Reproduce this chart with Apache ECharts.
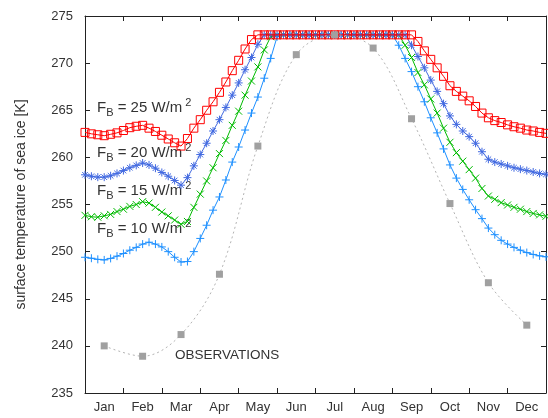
<!DOCTYPE html>
<html><head><meta charset="utf-8">
<script src="https://cdn.jsdelivr.net/npm/echarts@6/dist/echarts.min.js"></script>
<style>html,body{margin:0;padding:0;background:#fff}#c{width:548px;height:418px}</style>
</head><body><div id="c"></div>
<script>
// Month tick labels
const months = ['Jan','Feb','Mar','Apr','May','Jun','Jul','Aug','Sep','Oct','Nov','Dec'];

// Model curves, one value every 5 days (73 values, Jan 1 .. Dec 31)
const fb25 = [262.65,262.5,262.4,262.3,262.45,262.6,262.85,263.15,263.3,263.4,263.1,262.75,262.35,261.95,261.55,261.2,
  262.0,263.1,264.0,265.0,265.9,266.9,268.0,269.2,270.3,271.5,272.5,
  273,273,273,273,273,273,273,273,273,273,273,273,273,273,273,273,273,273,273,273,273,273,273,273,273,
  272.3,271.3,270.4,269.5,268.6,267.6,267.0,266.5,266.0,265.4,264.7,264.2,263.9,263.7,263.45,263.25,263.1,262.9,262.8,262.65,262.55];
const fb20 = [258.15,258.0,257.9,257.9,258.05,258.3,258.6,258.9,259.15,259.4,259.2,258.85,258.4,258.0,257.55,257.05,
  257.85,259.1,260.3,261.5,262.8,264.0,265.3,266.6,267.9,269.3,270.6,272.0,
  273,273,273,273,273,273,273,273,273,273,273,273,273,273,273,273,273,273,273,273,273,273,273,
  271.9,270.7,269.5,268.2,267.0,265.7,264.4,263.5,262.8,262.2,261.5,260.6,259.8,259.5,259.3,259.1,258.9,258.75,258.6,258.45,258.3,258.2];
const fb15 = [253.85,253.7,253.65,253.8,253.95,254.25,254.5,254.8,255.0,255.3,255.15,254.7,254.2,253.8,253.35,252.9,
  253.2,254.7,256.1,257.5,258.9,260.4,261.8,263.4,264.9,266.6,268.1,269.6,271.4,272.8,
  273,273,273,273,273,273,273,273,273,273,273,273,273,273,273,273,273,273,273,273,
  271.9,270.6,269.0,267.7,266.2,264.7,263.1,261.6,260.5,259.6,258.7,257.8,256.7,255.9,255.55,255.2,254.95,254.7,254.5,254.25,254.05,253.9,253.75];
const fb10 = [249.4,249.3,249.18,249.12,249.28,249.52,249.8,250.15,250.45,250.8,251.0,250.8,250.5,250.0,249.4,248.9,
  248.95,250.0,251.4,252.8,254.4,255.8,257.6,259.5,261.1,262.9,264.7,266.4,268.4,270.5,272.8,
  273,273,273,273,273,273,273,273,273,273,273,273,273,273,273,273,273,273,
  271.9,270.5,269.1,267.5,265.9,264.2,262.6,260.9,259.2,257.8,256.6,255.5,254.45,253.5,252.5,251.8,251.2,250.8,250.45,250.15,249.9,249.7,249.55,249.45];

// Monthly observations (mid-month)
const obs = [240.0,238.9,241.2,247.6,261.2,270.9,273.0,271.6,264.1,255.1,246.7,242.2];

const fbValues = ['25','20','15','10'];
const fbLabelY = [108,152.5,190.5,228.5];

const FONT = 'Liberation Sans';
const TXT = '#333';

function daily(arr){ return arr.map((v,i)=>[i/6, v]); }
function monthly(arr){ return arr.map((v,i)=>[i+0.5, v]); }

const chart = echarts.init(document.getElementById('c'), null, {renderer:'canvas'});

const symPlus = 'path://M5,0L5,10M0,5L10,5';
const symCross = 'path://M0,0L10,10M0,10L10,0';
const symStar = 'path://M5,0L5,10M0,5L10,5M1.5,1.5L8.5,8.5M1.5,8.5L8.5,1.5';

function modelSeries(name, data, color, symbol, size, z){
  return {
    name, type:'line', xAxisIndex:0, yAxisIndex:0, data: daily(data),
    symbol, symbolSize:size, showSymbol:true, z,
    lineStyle:{color, width:1},
    itemStyle:{color:'rgba(0,0,0,0)', borderColor:color, borderWidth:1},
    emphasis:{disabled:true}
  };
}

const graphics = [];
fbValues.forEach((v,k)=>{
  graphics.push({
    type:'text', left:97, top:fbLabelY[k]-10.5, silent:true,
    style:{
      text:'{m|F}{s|B}{m| = ' + v + ' W/m}{p|2}',
      fontFamily:FONT, fill:TXT,
      rich:{
        m:{fontFamily:FONT, fontSize:15, lineHeight:21, color:TXT},
        s:{fontFamily:FONT, fontSize:11, lineHeight:11, verticalAlign:'bottom', color:TXT},
        p:{fontFamily:FONT, fontSize:11, lineHeight:16, verticalAlign:'top', color:TXT, padding:[0,0,0,3]}
      }
    }
  });
});
graphics.push({
  type:'text', left:175, top:355.3-7, silent:true,
  style:{text:'OBSERVATIONS', fontFamily:FONT, fontSize:13.5, fill:TXT}
});

chart.setOption({
  animation:false,
  backgroundColor:'#fff',
  grid:{left:85, right:2, top:16, bottom:25, containLabel:false, outerBoundsMode:'none'},
  xAxis:[
    {type:'value', min:0, max:12, show:false},
    {type:'category', data:months, position:'bottom', boundaryGap:true,
      axisLine:{show:true, lineStyle:{color:'#222', width:1}},
      axisTick:{show:true, inside:true, length:5, lineStyle:{color:'#222'}},
      axisLabel:{show:true, margin:8, fontFamily:FONT, fontSize:13, color:TXT, interval:0},
      splitLine:{show:false}},
    {type:'category', data:months, position:'top', boundaryGap:true,
      axisLine:{show:true, lineStyle:{color:'#222', width:1}},
      axisTick:{show:true, inside:true, length:5, lineStyle:{color:'#222'}},
      axisLabel:{show:false}, splitLine:{show:false}}
  ],
  yAxis:[
    {type:'value', min:235, max:275, interval:5, position:'left',
      name:'surface temperature of sea ice [K]', nameLocation:'middle', nameGap:57,
      nameTextStyle:{fontFamily:FONT, fontSize:14, color:TXT},
      axisLine:{show:true, lineStyle:{color:'#222', width:1}},
      axisTick:{show:true, inside:true, length:5, lineStyle:{color:'#222'}},
      axisLabel:{show:true, margin:12, fontFamily:FONT, fontSize:13, color:TXT},
      splitLine:{show:false}},
    {type:'value', min:235, max:275, interval:5, position:'right',
      axisLine:{show:true, lineStyle:{color:'#222', width:1}},
      axisTick:{show:true, inside:true, length:5, lineStyle:{color:'#222'}},
      axisLabel:{show:false}, splitLine:{show:false}}
  ],
  series:[
    modelSeries('FB10', fb10, '#1e90ff', symPlus, 8, 2),
    modelSeries('FB15', fb15, '#00bb00', symCross, 7, 3),
    modelSeries('FB20', fb20, '#4169e1', symStar, 8, 4),
    modelSeries('FB25', fb25, '#ff0000', 'rect', 8, 5),
    {name:'obs', type:'line', xAxisIndex:0, yAxisIndex:0, data:monthly(obs), smooth:0.35,
      symbol:'rect', symbolSize:7, z:6,
      lineStyle:{color:'#b4b4b4', width:1, type:[2,3]},
      itemStyle:{color:'#a0a0a0'}, emphasis:{disabled:true}}
  ],
  graphic:graphics
});
</script>
</body></html>
